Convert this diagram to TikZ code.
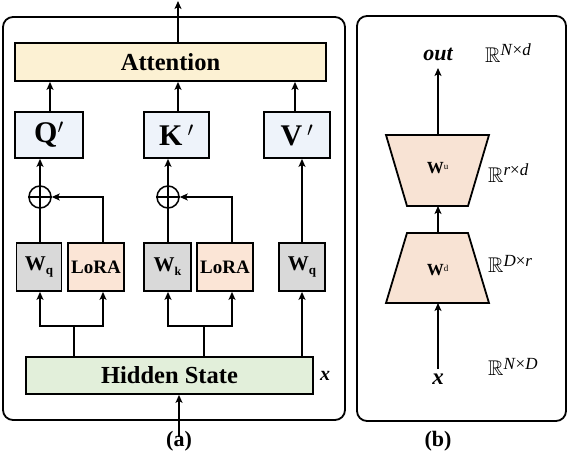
\documentclass[tikz,border=0pt]{standalone}
\usepackage{fontspec}
\usepackage{amssymb}
\setmainfont{Liberation Serif}
\usetikzlibrary{arrows.meta}
\definecolor{attc}{HTML}{FCF1D3}
\definecolor{qkvc}{HTML}{EEF3FA}
\definecolor{wc}{HTML}{D9D9D9}
\definecolor{lorac}{HTML}{FBE5D6}
\definecolor{hidc}{HTML}{E2EFDA}
\definecolor{trapc}{HTML}{F8E3D4}
\newcommand{\fs}[1]{\fontsize{#1}{#1}\selectfont}
\newcommand{\RR}[2]{\scalebox{1.25}{$\mathbb{R}$}\raisebox{6.5pt}{\fs{17}#1×#2}}
\tikzset{
  arr/.style={line width=1.8pt,-{Stealth[length=8pt,width=7pt,inset=2pt]}},
  ln/.style={line width=1.8pt},
  box/.style={draw,line width=1.8pt,inner sep=0pt,font=\bfseries},
  panel/.style={draw,line width=1.8pt,rounded corners=10pt},
  dimlab/.style={font=\fs{17},inner sep=0pt,anchor=west},
}
\begin{document}
\begin{tikzpicture}[x=1pt,y=-1pt]
\useasboundingbox (0,0) rectangle (568,452);
% panels
\draw[panel] (3,17) rectangle (345,420);
\draw[panel] (357,16) rectangle (566,421);
% left panel nodes
\node[box,fill=attc,minimum width=311pt,minimum height=38pt,font=\bfseries\fs{24.5}] (att) at (170.5,62) {Attention};
\node[box,fill=qkvc,minimum width=68pt,minimum height=46pt,font=\bfseries\fs{30}] (Q) at (49,135) {Q$'$};
\node[box,fill=qkvc,minimum width=65pt,minimum height=46pt,font=\bfseries\fs{30}] (K) at (176.5,135) {K\,$'$};
\node[box,fill=qkvc,minimum width=66pt,minimum height=46pt,font=\bfseries\fs{30}] (V) at (297,135) {V\,$'$};
\node[draw,circle,line width=1.5pt,minimum size=22pt,inner sep=0pt] (c1) at (40,197) {};
\draw[line width=1.5pt] (c1.north) -- (c1.south) (c1.west) -- (c1.east);
\node[draw,circle,line width=1.5pt,minimum size=22pt,inner sep=0pt] (c2) at (168,197) {};
\draw[line width=1.5pt] (c2.north) -- (c2.south) (c2.west) -- (c2.east);
\node[box,fill=wc,minimum width=45pt,minimum height=48pt,font=\bfseries\fs{21}] (wq) at (39,267) {W\raisebox{-4pt}{\fs{13}q}};
\node[box,fill=lorac,minimum width=56pt,minimum height=48pt,font=\bfseries\fs{19}] (l1) at (96,267) {LoRA};
\node[box,fill=wc,minimum width=47pt,minimum height=48pt,font=\bfseries\fs{21}] (wk) at (167.5,267) {W\raisebox{-4pt}{\fs{12}k}};
\node[box,fill=lorac,minimum width=56pt,minimum height=48pt,font=\bfseries\fs{19}] (l2) at (225,267) {LoRA};
\node[box,fill=wc,minimum width=46pt,minimum height=48pt,font=\bfseries\fs{21}] (wv) at (302,267) {W\raisebox{-4pt}{\fs{13}q}};
\node[box,fill=hidc,minimum width=287pt,minimum height=37pt,font=\bfseries\fs{24.5}] (hid) at (169.5,375.5) {Hidden State};
\node[font=\bfseries\itshape\fs{20}] (xa) at (325,376) {x};
\node[font=\bfseries\fs{22}] (la) at (179,441) {(a)};
% left connectors
\coordinate (outtop) at (178,1);
\draw[arr] (att.north -| outtop) -- (outtop);
\draw[arr] (50,0 |- Q.north) -- (50,0 |- att.south);
\draw[arr] (178,0 |- K.north) -- (178,0 |- att.south);
\draw[arr] (295,0 |- V.north) -- (295,0 |- att.south);
\draw[arr] (c1.north) -- (c1.north |- Q.south);
\draw[arr] (c2.north) -- (c2.north |- K.south);
\draw[ln] (wq.north -| c1) -- (c1.south);
\draw[ln] (wk.north -| c2) -- (c2.south);
\coordinate (l1x) at (103,0);
\coordinate (l2x) at (232,0);
\draw[arr] (l1.north -| l1x) |- (c1.east);
\draw[arr] (l2.north -| l2x) |- (c2.east);
\draw[arr] (302,0 |- wv.north) -- (302,0 |- V.south);
% branches from hidden state
\coordinate (b1) at (74,326);
\coordinate (b2) at (204,326);
\draw[ln] (hid.north -| b1) -- (b1);
\draw[ln] (hid.north -| b2) -- (b2);
\draw[arr] (b1) -| (wq.south -| c1);
\draw[arr] (b1) -| (l1.south -| l1x);
\draw[arr] (b2) -| (wk.south -| c2);
\draw[arr] (b2) -| (l2.south -| l2x);
\draw[arr] (hid.north -| wv) -- (wv.south);
\coordinate (inb) at (179,437);
\draw[arr] (inb) -- (hid.south -| inb);
% right panel
\coordinate (u1) at (386,135); \coordinate (u2) at (489,135);
\coordinate (u3) at (468,206); \coordinate (u4) at (407,206);
\coordinate (d1) at (407,233); \coordinate (d2) at (468,233);
\coordinate (d3) at (489,303); \coordinate (d4) at (386,303);
\draw[ln,fill=trapc,line join=miter] (u1) -- (u2) -- (u3) -- (u4) -- cycle;
\draw[ln,fill=trapc,line join=miter] (d1) -- (d2) -- (d3) -- (d4) -- cycle;
\node[font=\bfseries\fs{17}] (wu) at (437.5,168) {W\raisebox{4pt}{\mdseries\fs{9}u}};
\node[font=\bfseries\fs{17}] (wd) at (437.5,270) {W\raisebox{4pt}{\mdseries\fs{9}d}};
\node[font=\bfseries\itshape\fs{22}] (out) at (438,54) {out};
\node[font=\bfseries\itshape\fs{23}] (xb) at (438,379) {x};
\node[dimlab] (r1) at (485,53) {\RR{\textit{N}}{\textit{d}}};
\node[dimlab] (r2) at (488,173) {\RR{\textit{r}}{\textit{d}}};
\node[dimlab] (r3) at (488,264) {\RR{\textit{D}}{\textit{r}}};
\node[dimlab] (r4) at (488,367) {\RR{\textit{N}}{\textit{D}}};
\node[font=\bfseries\fs{22}] (lb) at (438,441) {(b)};
\coordinate (outb) at (438,68);
\draw[arr] (u1 -| outb) -- (outb);
\draw[arr] (d1 -| outb) -- (u4 -| outb);
\draw[arr] (438,369) -- (d4 -| outb);
\end{tikzpicture}
\end{document}
